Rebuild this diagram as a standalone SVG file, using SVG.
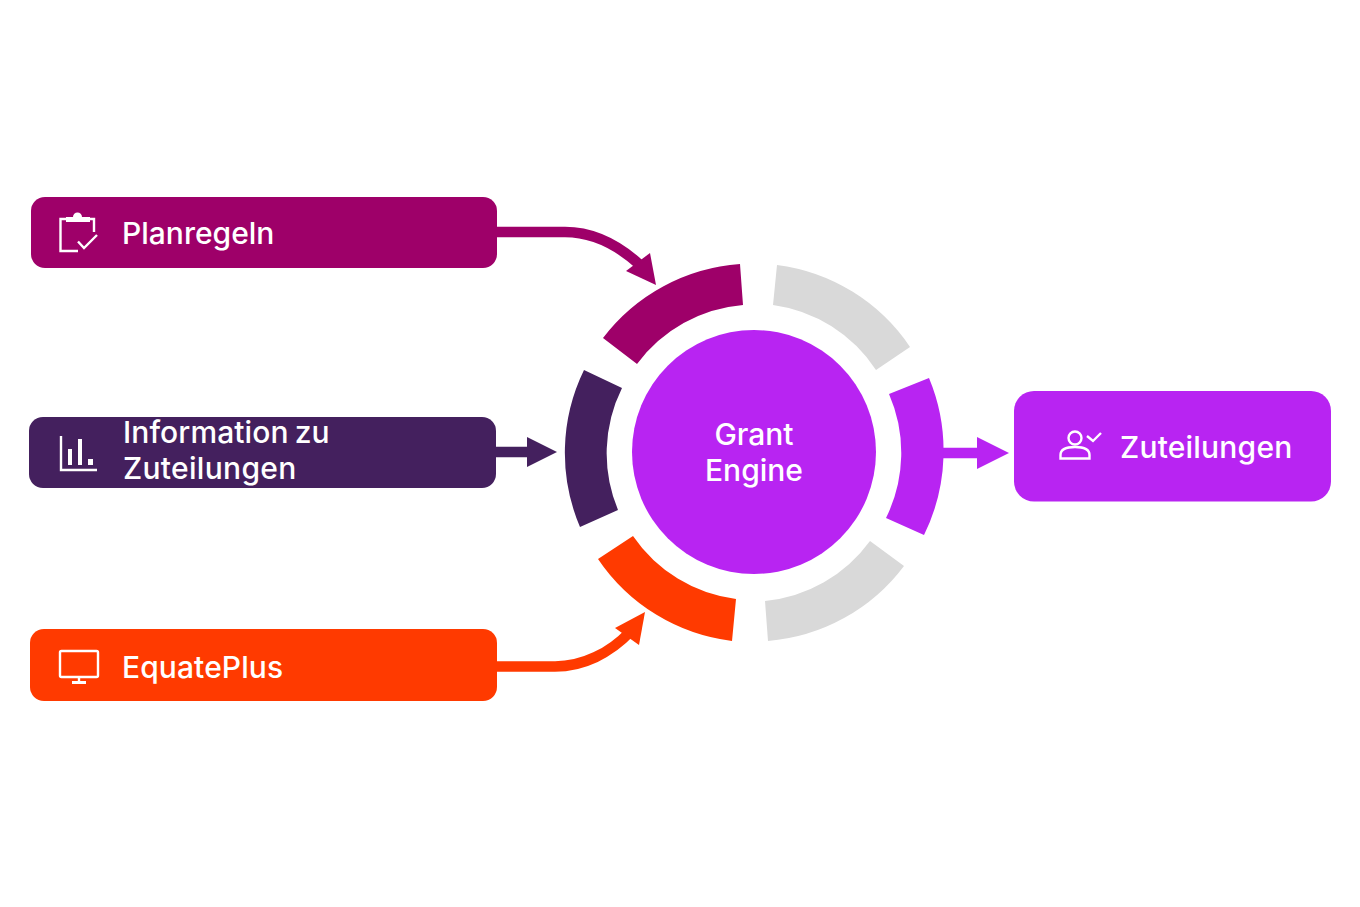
<svg xmlns="http://www.w3.org/2000/svg" width="1360" height="907" viewBox="0 0 1360 907">
<style>
.t{font-family:"Inter","Noto Sans","Liberation Sans",sans-serif;font-weight:500;font-size:30px;fill:#fff}
.c{text-anchor:middle}
.i{fill:none;stroke:#fff;stroke-width:2.4}
.plum{fill:#9E0069}.dark{fill:#44205E}.org{fill:#FF3A00}.pur{fill:#B824F2}.gr{fill:#D9D9D9}
.l{fill:none;stroke-width:10.500}
</style>
<rect width="1360" height="907" fill="#fff"/>
<g id="connectors">
<path class="l" stroke="#9E0069" d="M497 232H565C592 232 616 243 640 265"/>
<polygon class="plum" points="656,285 650,253 626,271"/>
<path class="l" stroke="#44205E" d="M496 452H530"/>
<polygon class="dark" points="527,437 557,452 527,467"/>
<path class="l" stroke="#B824F2" d="M943 453H980"/>
<polygon class="pur" points="977,437 1009,453 977,469"/>
<path class="l" stroke="#FF3A00" d="M497 666.500H555C583 666.500 610 653 630 632"/>
<polygon class="org" points="645,612 615,628 639,645"/>
</g>
<g id="ring">
<path id="seg-plan" class="plum" d="M740 264A189 189 0 0 0 603 338L637 364A147 147 0 0 1 743 305Z"/>
<path id="seg-top" class="gr" d="M777 265A189 189 0 0 1 910 347L876 370A147 147 0 0 0 773 305Z"/>
<path id="seg-info" class="dark" d="M584 370A189 189 0 0 0 580 527L618 510A147 147 0 0 1 622 388Z"/>
<path id="seg-out" class="pur" d="M929 378A190 190 0 0 1 924 535L886 518A147 147 0 0 0 889 394Z"/>
<path id="seg-eq" class="org" d="M598 559A189 189 0 0 0 732 641L736 599A147 147 0 0 1 633 536Z"/>
<path id="seg-bot" class="gr" d="M904 566A189 189 0 0 1 768 641L765 601A147 147 0 0 0 870 541Z"/>
</g>
<g id="grant-engine">
<circle class="pur" cx="754" cy="452" r="122"/>
<text class="t c" x="754" y="444.500">Grant</text>
<text class="t c" x="754" y="480.500">Engine</text>
</g>
<g id="planregeln">
<rect class="plum" x="31" y="197" width="466" height="71" rx="14"/>
<path class="i" d="M66 219H60.500V251H78M89 219H94V232M78 241.500L84 248L97 235"/>
<path d="M66 217H73A4.500 4.500 0 0 1 82 217H90V222H66Z" fill="#fff"/>
<text class="t" x="122" y="243.500">Planregeln</text>
</g>
<g id="information">
<rect class="dark" x="29" y="417" width="467" height="71" rx="14"/>
<path class="i" d="M61 436V470H97"/>
<path d="M68 449h4v16h-4zM78 439h4v26h-4zM88 459h5v6h-5z" fill="#fff"/>
<text class="t" x="123" y="442.500" word-spacing="-2" letter-spacing=".1">Information zu</text>
<text class="t" x="123" y="478.500" letter-spacing=".3">Zuteilungen</text>
</g>
<g id="equateplus">
<rect class="org" x="30" y="629" width="467" height="72" rx="14"/>
<rect class="i" x="60" y="651" width="38" height="26" rx="1.500"/>
<path class="i" d="M79 677V683"/><path d="M72 682.500H86" stroke="#fff" stroke-width="3"/>
<text class="t" x="122" y="677.500" letter-spacing=".1">EquatePlus</text>
</g>
<g id="zuteilungen">
<rect class="pur" x="1014" y="391" width="317" height="110.500" rx="20"/>
<circle class="i" cx="1075" cy="438" r="6.500"/>
<path class="i" d="M1060.500 458.500V455C1060.500 449 1067 447 1075 447C1083 447 1089.500 449 1089.500 455V458.500Z"/>
<path class="i" d="M1087 436L1093 441L1101 433"/>
<text class="t" x="1120" y="457.500" letter-spacing=".2">Zuteilungen</text>
</g>
</svg>
